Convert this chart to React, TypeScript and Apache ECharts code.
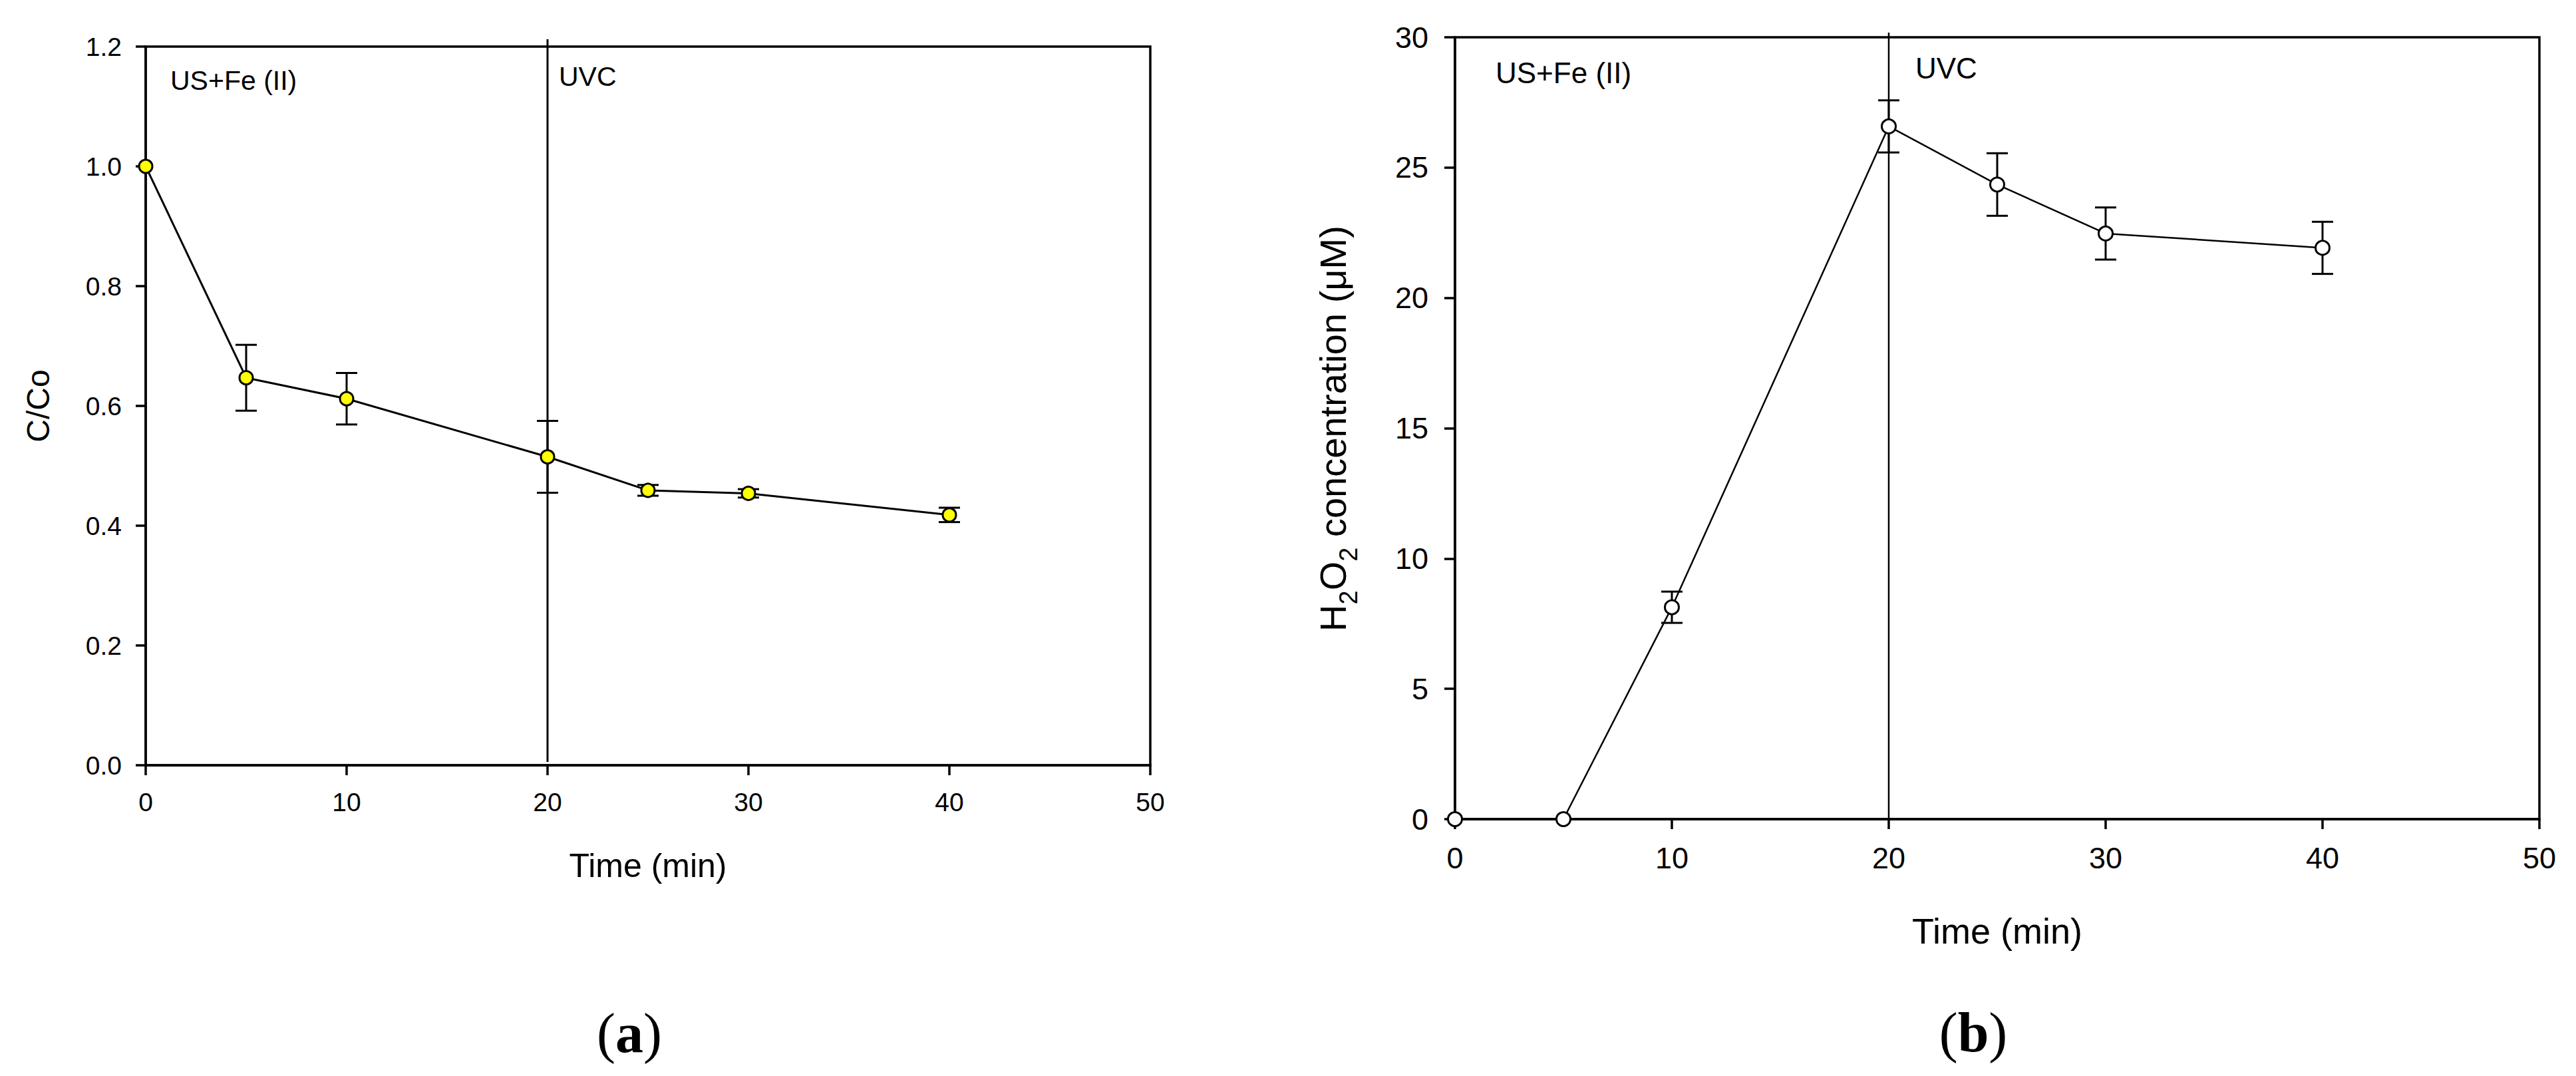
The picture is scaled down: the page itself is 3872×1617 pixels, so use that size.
import React, { useEffect, useRef } from "react";
import * as echarts from "echarts";

const timeMin = [0, 5, 10, 20, 25, 30, 40];
const ccoValues = [1.0, 0.647, 0.612, 0.515, 0.459, 0.454, 0.418];
const ccoErrors = [0, 0.055, 0.043, 0.06, 0.009, 0.007, 0.012];
const h2o2Values = [0, 0, 8.13, 26.58, 24.35, 22.47, 21.92];
const h2o2Errors = [0, 0, 0.6, 1.0, 1.2, 1.0, 1.0];
const uvStart = 20;
const xTicks = { min: 0, max: 50, interval: 10 };
const yTicksA = { min: 0, max: 1.2, interval: 0.2 };
const yTicksB = { min: 0, max: 30, interval: 5 };

const FONT = "Liberation Sans";

function errData(vals: number[], errs: number[]) {
  const out: number[][] = [];
  vals.forEach((v, i) => {
    if (errs[i] > 0) out.push([timeMin[i], v - errs[i], v + errs[i]]);
  });
  return out;
}

function errorBarSeries(idx: number, data: number[][], lw: number) {
  return {
    type: "custom",
    xAxisIndex: idx,
    yAxisIndex: idx,
    z: 3,
    encode: { x: 0, y: [1, 2] },
    data,
    renderItem: (params: any, api: any) => {
      const x = api.value(0);
      const top = api.coord([x, api.value(2)]);
      const bot = api.coord([x, api.value(1)]);
      const hw = 16;
      const style = { stroke: "#000", lineWidth: lw, fill: null };
      return {
        type: "group",
        children: [
          { type: "line", shape: { x1: top[0], y1: top[1], x2: bot[0], y2: bot[1] }, style },
          { type: "line", shape: { x1: top[0] - hw, y1: top[1], x2: top[0] + hw, y2: top[1] }, style },
          { type: "line", shape: { x1: bot[0] - hw, y1: bot[1], x2: bot[0] + hw, y2: bot[1] }, style },
        ],
      };
    },
  };
}

function vlineSeries(idx: number, above: number, below: number, lw: number) {
  return {
    type: "custom",
    xAxisIndex: idx,
    yAxisIndex: idx,
    z: 2,
    data: [[uvStart]],
    encode: { x: 0 },
    renderItem: (params: any, api: any) => {
      const cs = params.coordSys;
      const px = api.coord([api.value(0), 0])[0];
      return {
        type: "line",
        shape: { x1: px, y1: cs.y - above, x2: px, y2: cs.y + cs.height - below },
        style: { stroke: "#000", lineWidth: lw },
      };
    },
  };
}

function xAxisCfg(idx: number, fs: number, nameFs: number, gap: number, lw: number) {
  return {
    type: "value",
    gridIndex: idx,
    ...xTicks,
    name: "Time (min)",
    nameLocation: "middle",
    nameGap: gap,
    nameTextStyle: { fontSize: nameFs, color: "#000", fontFamily: FONT },
    axisLine: { show: true, onZero: false, lineStyle: { color: "#000", width: lw } },
    axisTick: { show: true, inside: false, length: 15, lineStyle: { color: "#000", width: lw } },
    axisLabel: { fontSize: fs, color: "#000", fontFamily: FONT, margin: 36 },
    splitLine: { show: false },
  };
}

export default function App() {
  const ref = useRef<HTMLDivElement>(null);
  useEffect(() => {
    if (!ref.current) return;
    const chart = echarts.init(ref.current, null, { renderer: "svg" });
    const ccoPoints = timeMin.map((t, i) => [t, ccoValues[i]]);
    const h2o2Points = timeMin.map((t, i) => [t, h2o2Values[i]]);
    chart.setOption({
      animation: false,
      backgroundColor: "#fff",
      textStyle: { fontFamily: FONT },
      grid: [
        { left: 219, top: 70, width: 1510, height: 1080, show: true, borderColor: "#000", borderWidth: 3.5, backgroundColor: "transparent" },
        { left: 2187, top: 56, width: 1630, height: 1175, show: true, borderColor: "#000", borderWidth: 3.5, backgroundColor: "transparent" },
      ],
      xAxis: [xAxisCfg(0, 39, 50, 126, 3.5), xAxisCfg(1, 45, 54, 141, 3.5)],
      yAxis: [
        {
          type: "value",
          gridIndex: 0,
          ...yTicksA,
          name: "C/Co",
          nameLocation: "middle",
          nameGap: 138,
          nameTextStyle: { fontSize: 48, color: "#000", fontFamily: FONT },
          axisLine: { show: true, onZero: false, lineStyle: { color: "#000", width: 3.5 } },
          axisTick: { show: true, inside: false, length: 15, lineStyle: { color: "#000", width: 3.5 } },
          axisLabel: { fontSize: 39, color: "#000", fontFamily: FONT, margin: 36, formatter: (v: number) => v.toFixed(1) },
          splitLine: { show: false },
        },
        {
          type: "value",
          gridIndex: 1,
          ...yTicksB,
          axisLine: { show: true, onZero: false, lineStyle: { color: "#000", width: 3.5 } },
          axisTick: { show: true, inside: false, length: 16, lineStyle: { color: "#000", width: 3.5 } },
          axisLabel: { fontSize: 45, color: "#000", fontFamily: FONT, margin: 40 },
          splitLine: { show: false },
        },
      ],
      series: [
        vlineSeries(0, 11, 5, 3),
        vlineSeries(1, 7, 0, 2.5),
        errorBarSeries(0, errData(ccoValues, ccoErrors), 3),
        errorBarSeries(1, errData(h2o2Values, h2o2Errors), 3),
        {
          type: "line",
          xAxisIndex: 0,
          yAxisIndex: 0,
          data: ccoPoints,
          clip: false,
          z: 5,
          symbol: "circle",
          symbolSize: 20,
          itemStyle: { color: "#ffff00", borderColor: "#000", borderWidth: 3 },
          lineStyle: { color: "#000", width: 3 },
        },
        {
          type: "line",
          xAxisIndex: 1,
          yAxisIndex: 1,
          data: h2o2Points,
          clip: false,
          z: 5,
          symbol: "circle",
          symbolSize: 21,
          itemStyle: { color: "#ffffff", borderColor: "#000", borderWidth: 3 },
          lineStyle: { color: "#000", width: 2.5 },
        },
      ],
      graphic: [
        { type: "text", x: 256, y: 121, style: { text: "US+Fe (II)", fontSize: 41, fontFamily: FONT, fill: "#000", align: "left", verticalAlign: "middle" } },
        { type: "text", x: 840, y: 115, style: { text: "UVC", fontSize: 41, fontFamily: FONT, fill: "#000", align: "left", verticalAlign: "middle" } },
        { type: "text", x: 2248, y: 109, style: { text: "US+Fe (II)", fontSize: 44, fontFamily: FONT, fill: "#000", align: "left", verticalAlign: "middle" } },
        { type: "text", x: 2879, y: 102, style: { text: "UVC", fontSize: 44, fontFamily: FONT, fill: "#000", align: "left", verticalAlign: "middle" } },
        {
          type: "text",
          x: 2018,
          y: 644,
          rotation: Math.PI / 2,
          style: {
            text: "{m|H}{s|2}{m|O}{s|2}{m| concentration (μM)}",
            align: "center",
            verticalAlign: "middle",
            fill: "#000",
            rich: {
              m: { fontSize: 56, fontFamily: FONT, lineHeight: 56, padding: [0, 0, 15, 0], verticalAlign: "bottom", fill: "#000" },
              s: { fontSize: 38, fontFamily: FONT, lineHeight: 38, verticalAlign: "bottom", fill: "#000" },
            },
          },
        },
        {
          type: "text",
          x: 946,
          y: 1552,
          style: {
            text: "{p|(}{b|a}{p|)}",
            align: "center",
            verticalAlign: "middle",
            rich: {
              p: { fontSize: 84, fontFamily: "Liberation Serif", fill: "#000" },
              b: { fontSize: 84, fontFamily: "Liberation Serif", fontWeight: "bold", fill: "#000" },
            },
          },
        },
        {
          type: "text",
          x: 2966,
          y: 1551,
          style: {
            text: "{p|(}{b|b}{p|)}",
            align: "center",
            verticalAlign: "middle",
            rich: {
              p: { fontSize: 84, fontFamily: "Liberation Serif", fill: "#000" },
              b: { fontSize: 84, fontFamily: "Liberation Serif", fontWeight: "bold", fill: "#000" },
            },
          },
        },
      ],
    });
    return () => chart.dispose();
  }, []);
  return <div ref={ref} style={{ position: "absolute", left: 0, top: 0, width: 3872, height: 1617 }} />;
}
